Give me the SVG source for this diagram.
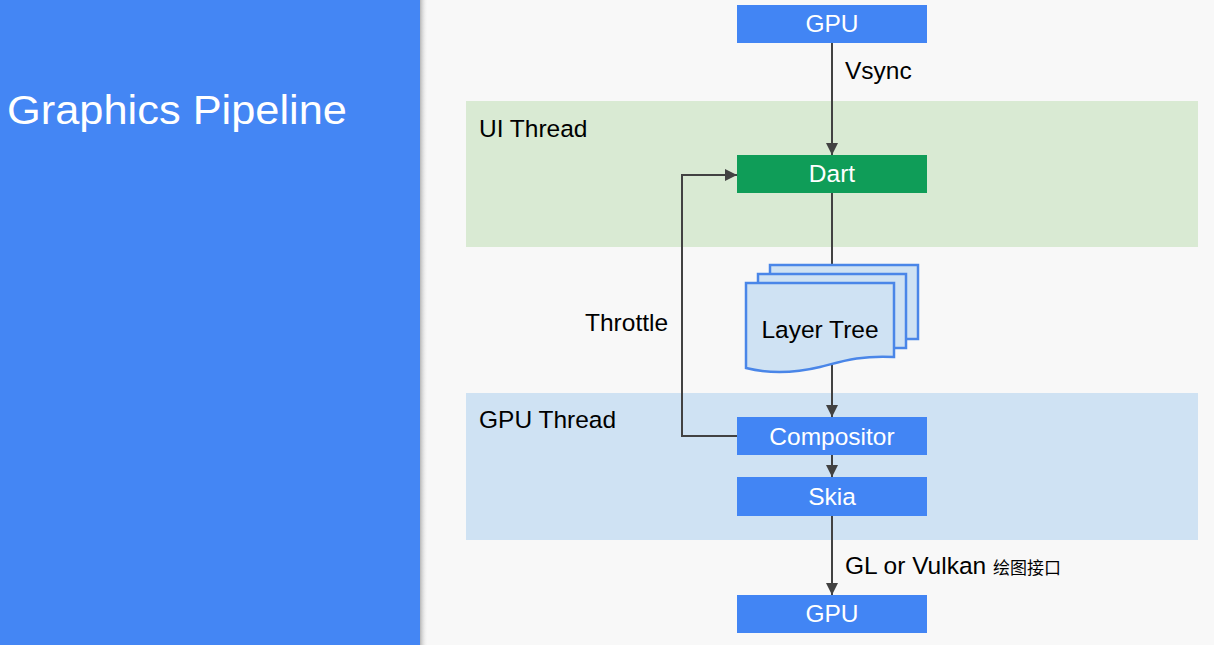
<svg xmlns="http://www.w3.org/2000/svg" width="1214" height="645" viewBox="0 0 1214 645">
<defs>
<marker id="arr" viewBox="0 0 10 10" refX="10" refY="5" markerWidth="6" markerHeight="6" orient="auto" markerUnits="strokeWidth">
<path d="M0,0 L10,5 L0,10 z" fill="#424242"/>
</marker>
<linearGradient id="sh" x1="0" x2="1" y1="0" y2="0">
<stop offset="0" stop-color="#9a9a9a" stop-opacity="0.7"/>
<stop offset="1" stop-color="#f8f8f8" stop-opacity="0"/>
</linearGradient>
<style>
.t{font-family:"Liberation Sans",Arial,sans-serif;font-size:24.5px;fill:#000}
.bt{font-family:"Liberation Sans",Arial,sans-serif;font-size:24.5px;fill:#fff;text-anchor:middle}
.box{fill:#4285f4}
.ln{stroke:#424242;stroke-width:2;fill:none}
.pg{fill:#cfe2f3;stroke:#4a86e8;stroke-width:2.5}
</style>
</defs>
<rect x="0" y="0" width="1214" height="645" fill="#f8f8f8"/>
<rect x="420" y="0" width="8" height="645" fill="url(#sh)"/>
<rect x="0" y="0" width="420" height="645" fill="#4486f4"/>
<text x="7" y="124" font-family="'Liberation Sans',Arial,sans-serif" font-size="41" textLength="340" lengthAdjust="spacingAndGlyphs" fill="#fff">Graphics Pipeline</text>

<g id="ui-thread">
<rect x="466" y="101" width="732" height="146" fill="#d9ead3"/>
<text class="t" x="479" y="137">UI Thread</text>
</g>
<g id="gpu-thread">
<rect x="466" y="393" width="732" height="147" fill="#cfe2f3"/>
<text class="t" x="479" y="428">GPU Thread</text>
</g>

<g id="connectors">
<line class="ln" x1="832" y1="43" x2="832" y2="155" marker-end="url(#arr)"/>
<line class="ln" x1="832" y1="193" x2="832" y2="270"/>
<line class="ln" x1="832" y1="365" x2="832" y2="417" marker-end="url(#arr)"/>
<line class="ln" x1="832" y1="455" x2="832" y2="477" marker-end="url(#arr)"/>
<line class="ln" x1="832" y1="516" x2="832" y2="595" marker-end="url(#arr)"/>
<polyline class="ln" points="737,436 682,436 682,175 737,175" marker-end="url(#arr)"/>
<text class="t" x="845" y="79">Vsync</text>
<text class="t" x="585" y="331">Throttle</text>
<text class="t" x="845" y="574">GL or Vulkan <tspan font-family="'Noto Sans CJK SC',sans-serif" font-size="17">绘图接口</tspan></text>
</g>

<g id="gpu-top">
<rect class="box" x="737" y="5" width="190" height="38"/>
<text class="bt" x="832" y="32">GPU</text>
</g>
<g id="dart">
<rect x="737" y="155" width="190" height="38" fill="#0f9d58"/>
<text class="bt" x="832" y="182">Dart</text>
</g>
<g id="layer-tree">
<rect class="pg" x="770" y="265" width="148" height="74"/>
<rect class="pg" x="758" y="274" width="148" height="74"/>
<path class="pg" d="M746,283 H894 V357 C860,355 840,362 820,367 C795,373 770,374 746,368 Z"/>
<text class="t" x="820" y="338" text-anchor="middle">Layer Tree</text>
</g>
<g id="compositor">
<rect class="box" x="737" y="417" width="190" height="38"/>
<text class="bt" x="832" y="445">Compositor</text>
</g>
<g id="skia">
<rect class="box" x="737" y="477" width="190" height="39"/>
<text class="bt" x="832" y="505">Skia</text>
</g>
<g id="gpu-bottom">
<rect class="box" x="737" y="595" width="190" height="38"/>
<text class="bt" x="832" y="622">GPU</text>
</g>
</svg>
